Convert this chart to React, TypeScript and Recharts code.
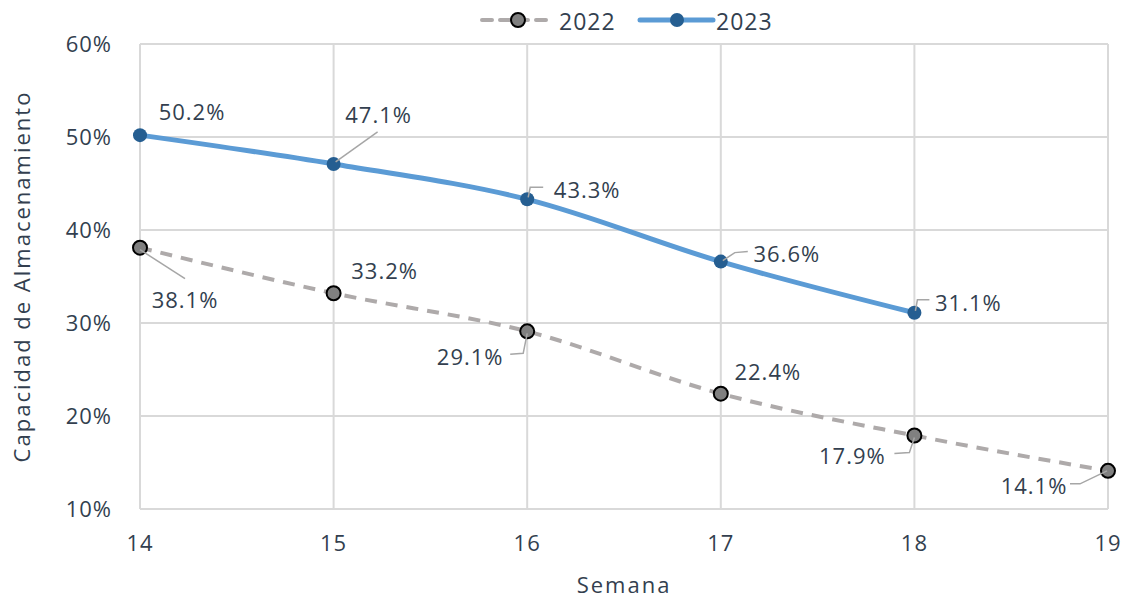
import React from 'react';
import {
  LineChart,
  Line,
  XAxis,
  YAxis,
  CartesianGrid,
  LabelList,
} from 'recharts';

const weeks = [14, 15, 16, 17, 18, 19];
const values2022 = [38.1, 33.2, 29.1, 22.4, 17.9, 14.1];
const values2023 = [50.2, 47.1, 43.3, 36.6, 31.1, null];
const yTicks = [10, 20, 30, 40, 50, 60];

const data = weeks.map((w, i) => ({
  week: w,
  y2022: values2022[i],
  y2023: values2023[i],
}));

const TEXT = '#333f4f';
const GRID = '#d9d9d9';
const FONT = '"Open Sans", "DejaVu Sans", sans-serif';
const textStyle = { fontSize: 22, fill: TEXT, fontFamily: FONT, letterSpacing: 1 };
const titleStyle = { ...textStyle, letterSpacing: 2, textAnchor: 'middle' as const };

// label placement (text centre offset + optional leader line) relative to each point
const labels2022 = [
  { dx: 45, dy: 51, leader: [[0, 2], [45, 31]] },
  { dx: 51, dy: -23 },
  { dx: -57, dy: 25, leader: [[0, 2], [-4, 22], [-17, 23]] },
  { dx: 47, dy: -23 },
  { dx: -62, dy: 19, leader: [[0, 2], [-5, 17], [-20, 18]] },
  { dx: -74, dy: 14, leader: [[-1, 0], [-28, 13], [-38, 13]] },
];
const labels2023 = [
  { dx: 52, dy: -24 },
  { dx: 45, dy: -50, leader: [[2, -2], [44, -32]] },
  { dx: 60, dy: -10, leader: [[1, -2], [3, -12], [16, -12]] },
  { dx: 66, dy: -9, leader: [[2, -1], [14, -9], [27, -10]] },
  { dx: 54, dy: -11, leader: [[1, -2], [3, -13], [15, -13]] },
];

const makeLabel = (offsets: any[]) => (props: any) => {
  const { x, y, index, value } = props;
  if (value == null) return null;
  const o = offsets[index];
  if (!o) return null;
  return (
    <g>
      {o.leader && (
        <polyline
          points={o.leader.map((p: number[]) => `${x + p[0]},${y + p[1]}`).join(' ')}
          fill="none"
          stroke="#a6a6a6"
          strokeWidth={1.5}
        />
      )}
      <text
        x={x + o.dx}
        y={y + o.dy}
        textAnchor="middle"
        dominantBaseline="central"
        style={textStyle}
      >
        {value.toFixed(1)}%
      </text>
    </g>
  );
};

function LegendBar() {
  return (
    <svg width={1125} height={40} style={{ position: 'absolute', left: 0, top: 0 }}>
      <line x1={482} y1={20} x2={553} y2={20} stroke="#aeaaaa" strokeWidth={4} strokeDasharray="10 8" strokeLinecap="round" />
      <circle cx={518} cy={20} r={7} fill="#808080" stroke="#000" strokeWidth={2} />
      <text x={559} y={21} dominantBaseline="central" style={{ ...textStyle, fontSize: 23 }}>
        2022
      </text>
      <line x1={640} y1={20} x2={713} y2={20} stroke="#5b9bd5" strokeWidth={5} strokeLinecap="round" />
      <circle cx={677} cy={20} r={7} fill="#255e91" />
      <text x={716} y={21} dominantBaseline="central" style={{ ...textStyle, fontSize: 23 }}>
        2023
      </text>
    </svg>
  );
}

export default function App() {
  return (
    <div style={{ position: 'fixed', left: 0, top: 0, width: 1125, height: 598, background: '#fff' }}>
      <LineChart
        width={1125}
        height={598}
        data={data}
        margin={{ top: 44, right: 17, left: 0, bottom: 0 }}
      >
        <CartesianGrid stroke={GRID} strokeWidth={2} />
        <XAxis
          dataKey="week"
          type="number"
          domain={[14, 19]}
          ticks={weeks}
          height={89}
          axisLine={{ stroke: GRID, strokeWidth: 2 }}
          tickLine={false}
          tick={textStyle}
          tickMargin={20}
          label={{
            value: 'Semana',
            position: 'insideBottom',
            offset: 5,
            style: titleStyle,
          }}
        />
        <YAxis
          type="number"
          domain={[10, 60]}
          ticks={yTicks}
          width={140}
          axisLine={false}
          tickLine={false}
          tickFormatter={(v: number) => `${v}%`}
          tick={textStyle}
          tickMargin={22}
          label={{
            value: 'Capacidad de Almacenamiento',
            angle: -90,
            position: 'insideLeft',
            offset: 22,
            style: titleStyle,
          }}
        />
        <Line
          dataKey="y2022"
          type="monotone"
          stroke="#aeaaaa"
          strokeWidth={4}
          strokeDasharray="12 9"
          dot={{ r: 7, fill: '#808080', stroke: '#000', strokeWidth: 2, strokeDasharray: '' }}
          isAnimationActive={false}
        >
          <LabelList dataKey="y2022" content={makeLabel(labels2022)} />
        </Line>
        <Line
          dataKey="y2023"
          type="monotone"
          stroke="#5b9bd5"
          strokeWidth={5}
          dot={{ r: 7, fill: '#255e91', stroke: 'none' }}
          isAnimationActive={false}
        >
          <LabelList dataKey="y2023" content={makeLabel(labels2023)} />
        </Line>
      </LineChart>
      <LegendBar />
    </div>
  );
}
